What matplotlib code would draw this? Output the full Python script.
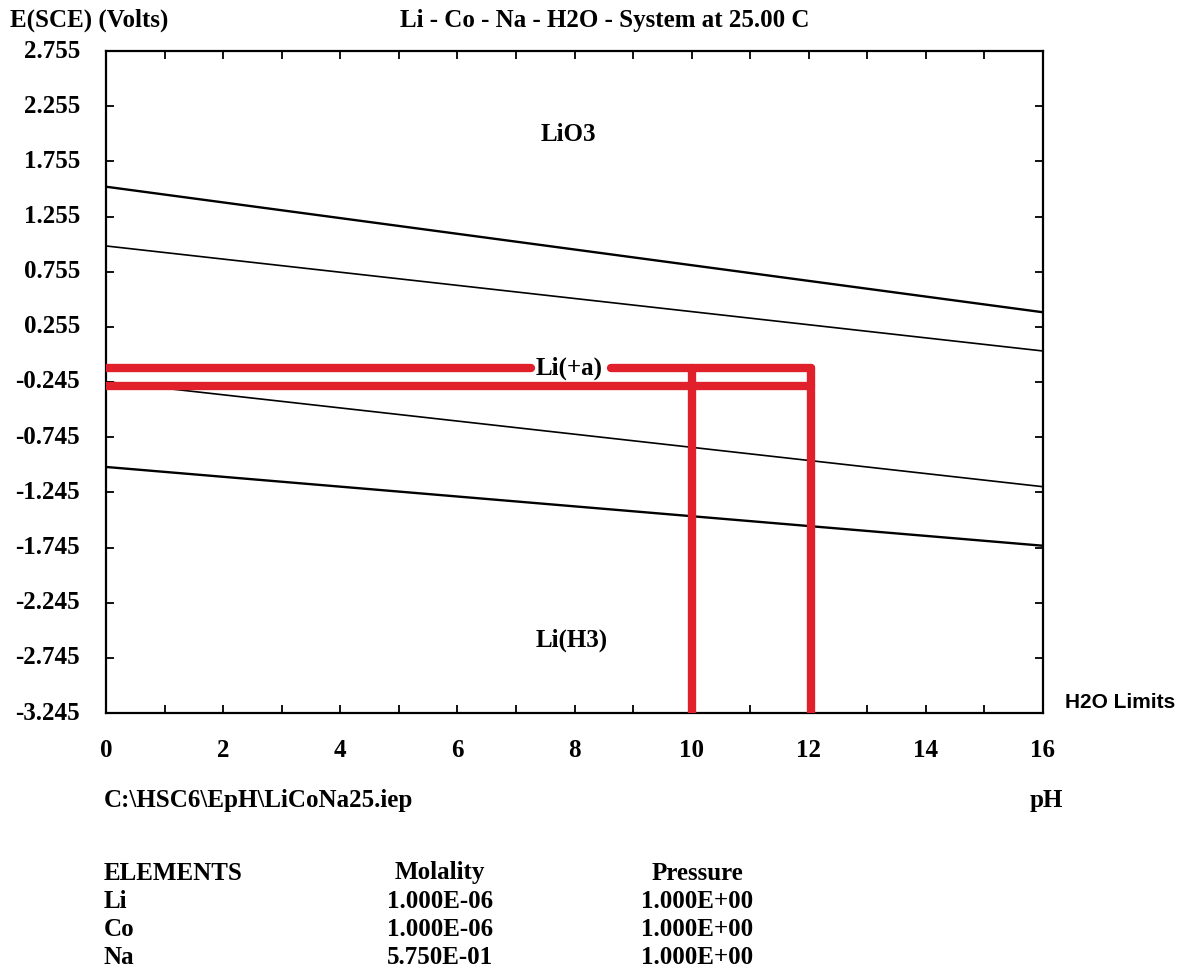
import numpy as np
import matplotlib.pyplot as plt
from matplotlib.ticker import MultipleLocator, FixedLocator

# Stability boundaries (pH, E) end points
ph_ends = [0.0, 16.0]
line_top = [1.525, 0.387]
line_o2 = [0.988, 0.036]
line_h2 = [-0.242, -1.194]
line_bot = [-1.015, -1.729]

# Red marker lines
red_upper_left = ([0.0, 7.25], [-0.118, -0.118])
red_upper_right = ([8.62, 12.03], [-0.118, -0.118])
red_lower = ([0.0, 12.03], [-0.277, -0.277])
red_v10 = ([10.0, 10.0], [-0.118, -3.245])
red_v12 = ([12.03, 12.03], [-0.118, -3.245])

yticks = [2.755, 2.255, 1.755, 1.255, 0.755, 0.255, -0.245, -0.745,
          -1.245, -1.745, -2.245, -2.745, -3.245]
xticks = [0, 2, 4, 6, 8, 10, 12, 14, 16]

elements = ['Li', 'Co', 'Na']
molality = ['1.000E-06', '1.000E-06', '5.750E-01']
pressure = ['1.000E+00', '1.000E+00', '1.000E+00']

serif = 'Liberation Serif'
sans = 'Liberation Sans'

fig = plt.figure(figsize=(11.82, 9.76), dpi=100)
ax = fig.add_axes([106/1182, 1-713/976, 937/1182, 662/976])
ax.set_xlim(0, 16)
ax.set_ylim(-3.245, 2.755)

ax.plot(ph_ends, line_top, color='black', lw=1.7)
ax.plot(ph_ends, line_o2, color='black', lw=1.2)
ax.plot(ph_ends, line_h2, color='black', lw=1.2)
ax.plot(ph_ends, line_bot, color='black', lw=1.7)

red = '#e0202b'
for xs, ys in [red_upper_left, red_upper_right, red_lower, red_v10, red_v12]:
    ax.plot(xs, ys, color=red, lw=6, solid_capstyle='round', zorder=3)

ax.xaxis.set_major_locator(MultipleLocator(1))
ax.yaxis.set_major_locator(FixedLocator(yticks))
ax.tick_params(direction='in', length=6, width=1.3, top=True, right=True,
               labelbottom=False, labelleft=False)
for s in ax.spines.values():
    s.set_linewidth(1.6)

tfont = dict(family=serif, weight='bold', fontsize=18)
for y in yticks:
    ax.text(-0.44, y, '%.3f' % y, ha='right', va='center', **tfont)
for x in xticks:
    ax.text(x, -3.245 - 0.24, '%d' % x, ha='center', va='top', **tfont)

ax.text(7.9, 2.0, 'LiO3', ha='center', va='center', **tfont)
ax.text(7.9, -0.118, 'Li(+a)', ha='center', va='center', zorder=4, **tfont)
ax.text(7.96, -2.59, 'Li(H3)', ha='center', va='center', **tfont)

fig.text(10/1182, 1-20/976, 'E(SCE) (Volts)', ha='left', va='center', **tfont)
fig.text(605/1182, 1-20/976, 'Li - Co - Na - H2O - System at 25.00 C',
         ha='center', va='center', **tfont)
fig.text(1065/1182, 1-703/976, 'H2O Limits', ha='left', va='center',
         family=sans, weight='bold', fontsize=15)
fig.text(104/1182, 1-801/976, 'C:\\HSC6\\EpH\\LiCoNa25.iep', ha='left',
         va='center', **tfont)
fig.text(1046/1182, 1-801/976, 'pH', ha='center', va='center', **tfont)

# Element table below the diagram
rows_y = [873, 901, 929, 957]
fig.text(104/1182, 1-rows_y[0]/976, 'ELEMENTS', ha='left', va='center', **tfont)
fig.text(440/1182, 1-rows_y[0]/976, 'Molality', ha='center', va='center', **tfont)
fig.text(697/1182, 1-rows_y[0]/976, 'Pressure', ha='center', va='center', **tfont)
for i, el in enumerate(elements):
    y = 1 - rows_y[i+1]/976
    fig.text(104/1182, y, el, ha='left', va='center', **tfont)
    fig.text(440/1182, y, molality[i], ha='center', va='center', **tfont)
    fig.text(697/1182, y, pressure[i], ha='center', va='center', **tfont)

fig.savefig('out.png', dpi=100)
